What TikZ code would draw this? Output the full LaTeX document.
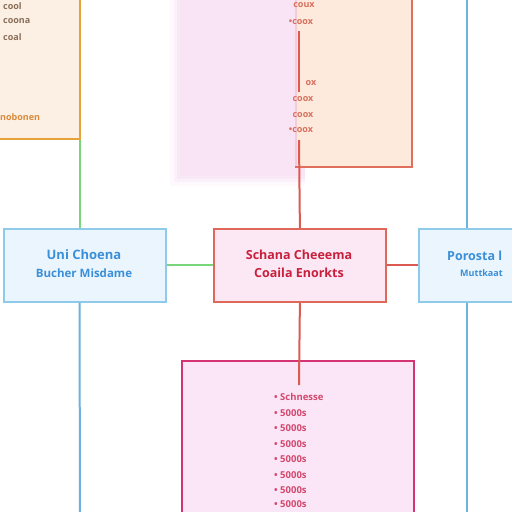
\documentclass[tikz,border=0pt]{standalone}
\usepackage{fontspec}
\setmainfont{Open Sans}
\definecolor{peachA}{HTML}{FCEFE3}
\definecolor{orangeB}{HTML}{E8A23C}
\definecolor{brownT}{HTML}{8A6E58}
\definecolor{orangeT}{HTML}{D98C3C}
\definecolor{peachB}{HTML}{FDEADC}
\definecolor{salmonB}{HTML}{E0705C}
\definecolor{salmonT}{HTML}{D8705E}
\definecolor{pinkglow}{HTML}{F9E4F6}
\definecolor{blueB}{HTML}{8ECBEA}
\definecolor{blueF}{HTML}{EBF5FD}
\definecolor{blueT}{HTML}{3A8FD8}
\definecolor{blueL}{HTML}{6DB2DE}
\definecolor{greenL}{HTML}{7AD67A}
\definecolor{redB}{HTML}{E0685A}
\definecolor{redF}{HTML}{FCE8F5}
\definecolor{redT}{HTML}{C8203C}
\definecolor{redL}{HTML}{DC5A52}
\definecolor{pinkB}{HTML}{D43472}
\definecolor{pinkF}{HTML}{FAE6F7}
\definecolor{pinkT}{HTML}{D4486E}
\begin{document}
\begin{tikzpicture}[x=1pt,y=-1pt,
  box/.style={draw, line width=1.8pt, inner sep=0pt},
  conn/.style={line width=2pt},
  small/.style={font=\fontsize{9}{11}\selectfont\bfseries, inner sep=0pt},
  item/.style={font=\fontsize{9.5}{11}\selectfont\bfseries, text=pinkT, anchor=west, inner sep=0pt},
  big/.style={font=\fontsize{12.5}{14}\selectfont\bfseries, inner sep=0pt}]
\useasboundingbox (0,0) rectangle (512,512);
\fill[white] (0,0) rectangle (512,512);
% pink glow behind top box
\foreach \d/\o in {10/0.2,6/0.35,3/0.55,0/1}{
  \fill[pinkglow, opacity=\o] (180-\d,-5) rectangle (305,176+\d);
}
% top-left box
\node[box, draw=orangeB, fill=peachA, minimum width=90pt, minimum height=146pt, anchor=south east] (tl) at (81,140) {};
\node[small, text=brownT, anchor=west] (tl1) at (3,6) {cool};
\node[small, text=brownT, anchor=west] (tl2) at (3,21) {coona};
\node[small, text=brownT, anchor=west] (tl3) at (3,37) {coal};
\node[small, text=orangeT, anchor=west] (tl4) at (0,117) {nobonen};
% top box
\node[box, draw=salmonB, fill=peachB, minimum width=116pt, minimum height=176pt, anchor=south east] (top) at (413,168) {};
\fill[pinkglow, opacity=0.8] (260,-5) rectangle (298,166);
\node[small, text=salmonT] (t1) at (304,5) {coux};
\node[small, text=salmonT] (t2) at (301,22) {•coox};
\node[small, text=salmonT] (t3) at (311,83) {ox};
\node[small, text=salmonT] (t4) at (303,99) {coox};
\node[small, text=salmonT] (t5) at (303,115) {coox};
\node[small, text=salmonT] (t6) at (301,130) {•coox};
\coordinate (ta) at (299,31);
\coordinate (tb) at (299,92);
\coordinate (tc) at (299,140);
\draw[conn, redL] (ta) -- (tb);
% left box
\node[box, draw=blueB, fill=blueF, minimum width=162pt, minimum height=73pt, anchor=north west] (lb) at (3,228) {};
\node[big, text=blueT, font=\fontsize{13}{15}\selectfont\bfseries] (lb1) at (84,255) {Uni Choena};
\node[big, text=blueT, font=\fontsize{11.5}{13}\selectfont\bfseries] (lb2) at (84,273) {Bucher Misdame};
% center box
\node[box, draw=redB, fill=redF, minimum width=172pt, minimum height=73pt, anchor=north west] (cb) at (213,228) {};
\node[big, text=redT] (cb1) at (299,255) {Schana Cheeema};
\node[big, text=redT] (cb2) at (299,273) {Coaila Enorkts};
% right box
\node[box, draw=blueB, fill=blueF, minimum width=110pt, minimum height=73pt, anchor=north west] (rb) at (418,228) {};
\node[big, text=blueT, anchor=west] (rb1) at (447,256) {Porosta l};
\node[small, text=blueT, anchor=west] (rb2) at (460,273) {Muttkaat};
% bottom box
\node[box, draw=pinkB, fill=pinkF, minimum width=232pt, minimum height=170pt, anchor=north west] (bb) at (181,360) {};
\node[item] (b0) at (274,397) {• Schnesse};
\foreach \i/\y in {1/413,2/428,3/444,4/459,5/475,6/490,7/504}{
  \node[item] (b\i) at (274,\y) {• 5000s};
}
\coordinate (bd) at (299,385);
% connectors
\coordinate (gx) at ([xshift=-1.5pt]tl.south east);
\draw[conn, greenL] (gx) -- (gx |- lb.north);
\draw[conn, greenL] (lb.east) -- (cb.west);
\coordinate (lbot) at (gx |- lb.south);
\coordinate (lend) at (80,512);
\draw[conn, blueL] (lbot) -- (lend);
\draw[conn, redL] (cb.north) -- (tc);
\draw[conn, redL] (cb.south) -- (bd);
\draw[conn, redL] (cb.east) -- (rb.west);
\coordinate (rtop) at (467,0);
\coordinate (rbot) at (467,512);
\draw[conn, blueL] (rb.north -| rtop) -- (rtop);
\draw[conn, blueL] (rb.south -| rbot) -- (rbot);
\end{tikzpicture}
\end{document}
